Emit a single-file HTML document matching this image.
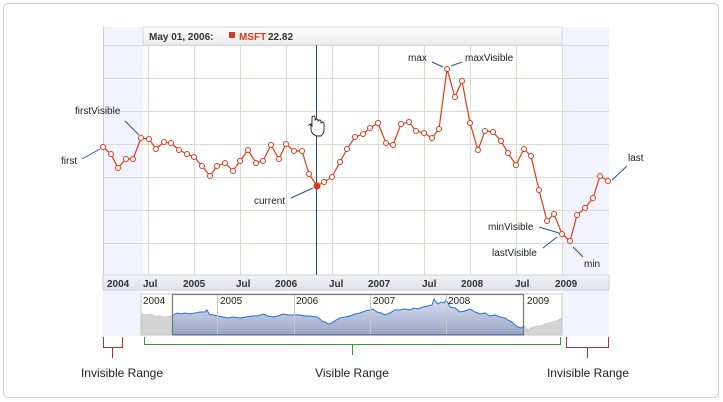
<!DOCTYPE html>
<html><head><meta charset="utf-8"><style>
html,body{margin:0;padding:0;background:#fff;}
svg{display:block;font-family:"Liberation Sans",Arial,sans-serif;}
</style></head><body>
<svg width="723" height="402" viewBox="0 0 723 402" xmlns="http://www.w3.org/2000/svg">
<defs>
<linearGradient id="hg" x1="0" y1="0" x2="0" y2="1"><stop offset="0" stop-color="#fdfdfd"/><stop offset="1" stop-color="#ececec"/></linearGradient>
<linearGradient id="ag" x1="0" y1="0" x2="0" y2="1"><stop offset="0" stop-color="#f2f2f6"/><stop offset="1" stop-color="#dfe3ee"/></linearGradient>
<linearGradient id="nb" x1="0" y1="0" x2="0" y2="1"><stop offset="0" stop-color="#dde1ee"/><stop offset="1" stop-color="#97a4c6"/></linearGradient>
<clipPath id="sel"><rect x="172" y="294" width="352" height="42"/></clipPath>
</defs>
<rect x="3.5" y="3.5" width="715" height="394" rx="5" fill="#fff" stroke="#cfcfcf"/>
<rect x="103" y="27" width="40" height="309" fill="#f2f3fd"/>
<rect x="562" y="27" width="47" height="309" fill="#f2f3fd"/>
<rect x="143" y="27" width="419" height="18" fill="url(#hg)" stroke="#d8d8d8"/>
<text x="149" y="40" font-size="10" font-weight="bold" fill="#333">May 01, 2006:</text>
<rect x="229" y="32" width="6" height="6" fill="#d93a16"/>
<text x="239" y="40" font-size="10" font-weight="bold" fill="#e03a18">MSFT</text>
<text x="268" y="40" font-size="10" font-weight="bold" fill="#333">22.82</text>
<g stroke="#d4dcd4" stroke-width="1">
<line x1="103" y1="45.5" x2="609" y2="45.5"/><line x1="103" y1="78.5" x2="609" y2="78.5"/>
<line x1="103" y1="111.5" x2="609" y2="111.5"/><line x1="103" y1="144.5" x2="609" y2="144.5"/>
<line x1="103" y1="177.5" x2="609" y2="177.5"/><line x1="103" y1="210.5" x2="609" y2="210.5"/>
<line x1="103" y1="243.5" x2="609" y2="243.5"/>
<line x1="148.5" y1="45" x2="148.5" y2="275"/><line x1="194.5" y1="45" x2="194.5" y2="275"/>
<line x1="240.5" y1="45" x2="240.5" y2="275"/><line x1="286.5" y1="45" x2="286.5" y2="275"/>
<line x1="332.5" y1="45" x2="332.5" y2="275"/><line x1="378.5" y1="45" x2="378.5" y2="275"/>
<line x1="424.5" y1="45" x2="424.5" y2="275"/><line x1="470.5" y1="45" x2="470.5" y2="275"/>
<line x1="516.5" y1="45" x2="516.5" y2="275"/><line x1="562.5" y1="45" x2="562.5" y2="275"/>
</g>
<line x1="103.5" y1="27" x2="103.5" y2="290" stroke="#c8ccd8"/>
<rect x="103" y="275" width="506" height="15" fill="url(#ag)" stroke="#cdd2de"/>
<g font-size="10" font-weight="bold" fill="#333">
<text x="107" y="287">2004</text><text x="143" y="287">Jul</text><text x="183" y="287">2005</text>
<text x="236" y="287">Jul</text><text x="275" y="287">2006</text><text x="329" y="287">Jul</text>
<text x="368" y="287">2007</text><text x="422" y="287">Jul</text><text x="461" y="287">2008</text>
<text x="515" y="287">Jul</text><text x="555" y="287">2009</text>
</g>
<line x1="316.5" y1="45" x2="316.5" y2="275" stroke="#2c4a6a"/>
<polyline fill="none" stroke="#e03a18" stroke-width="1.2" points="103,147 111,154 118,168 126,159 133,159 141,138 149,139 156,149 164,142 171,143 179,150 187,154 194,157 202,166 210,176 217,166 225,163 233,171 240,161 248,150 256,163 263,161 271,145 279,159 286,144 294,151 302,151 309,174 317,186 324,182 332,177 340,162 347,149 355,137 363,134 370,128 378,123 386,143 393,145 401,124 409,122 416,131 424,133 432,138 439,129 447,69 455,97 462,81 470,123 478,150 485,131 493,132 501,141 508,153 516,165 524,149 531,156 539,190 547,221 554,214 562,234 570,241 577,215 585,208 593,198 600,176 608,181"/>
<g fill="#fff" stroke="#e03a18" stroke-width="1">
<circle cx="103" cy="147" r="2.5"/><circle cx="111" cy="154" r="2.5"/><circle cx="118" cy="168" r="2.5"/><circle cx="126" cy="159" r="2.5"/><circle cx="133" cy="159" r="2.5"/><circle cx="141" cy="138" r="2.5"/><circle cx="149" cy="139" r="2.5"/><circle cx="156" cy="149" r="2.5"/><circle cx="164" cy="142" r="2.5"/><circle cx="171" cy="143" r="2.5"/><circle cx="179" cy="150" r="2.5"/><circle cx="187" cy="154" r="2.5"/><circle cx="194" cy="157" r="2.5"/><circle cx="202" cy="166" r="2.5"/><circle cx="210" cy="176" r="2.5"/><circle cx="217" cy="166" r="2.5"/><circle cx="225" cy="163" r="2.5"/><circle cx="233" cy="171" r="2.5"/><circle cx="240" cy="161" r="2.5"/><circle cx="248" cy="150" r="2.5"/><circle cx="256" cy="163" r="2.5"/><circle cx="263" cy="161" r="2.5"/><circle cx="271" cy="145" r="2.5"/><circle cx="279" cy="159" r="2.5"/><circle cx="286" cy="144" r="2.5"/><circle cx="294" cy="151" r="2.5"/><circle cx="302" cy="151" r="2.5"/><circle cx="309" cy="174" r="2.5"/><circle cx="324" cy="182" r="2.5"/><circle cx="332" cy="177" r="2.5"/><circle cx="340" cy="162" r="2.5"/><circle cx="347" cy="149" r="2.5"/><circle cx="355" cy="137" r="2.5"/><circle cx="363" cy="134" r="2.5"/><circle cx="370" cy="128" r="2.5"/><circle cx="378" cy="123" r="2.5"/><circle cx="386" cy="143" r="2.5"/><circle cx="393" cy="145" r="2.5"/><circle cx="401" cy="124" r="2.5"/><circle cx="409" cy="122" r="2.5"/><circle cx="416" cy="131" r="2.5"/><circle cx="424" cy="133" r="2.5"/><circle cx="432" cy="138" r="2.5"/><circle cx="439" cy="129" r="2.5"/><circle cx="447" cy="69" r="2.5"/><circle cx="455" cy="97" r="2.5"/><circle cx="462" cy="81" r="2.5"/><circle cx="470" cy="123" r="2.5"/><circle cx="478" cy="150" r="2.5"/><circle cx="485" cy="131" r="2.5"/><circle cx="493" cy="132" r="2.5"/><circle cx="501" cy="141" r="2.5"/><circle cx="508" cy="153" r="2.5"/><circle cx="516" cy="165" r="2.5"/><circle cx="524" cy="149" r="2.5"/><circle cx="531" cy="156" r="2.5"/><circle cx="539" cy="190" r="2.5"/><circle cx="547" cy="221" r="2.5"/><circle cx="554" cy="214" r="2.5"/><circle cx="562" cy="234" r="2.5"/><circle cx="570" cy="241" r="2.5"/><circle cx="577" cy="215" r="2.5"/><circle cx="585" cy="208" r="2.5"/><circle cx="593" cy="198" r="2.5"/><circle cx="600" cy="176" r="2.5"/><circle cx="608" cy="181" r="2.5"/>
</g>
<circle cx="317" cy="186" r="3.5" fill="#d93a16"/>
<!-- hand cursor -->
<path d="M311,124 L311,130 Q312,135 317,136 L321,136 Q324,134 324,129 L324,123 Q323,121 321,123 L321,121 Q320,119 318,121 L318,120 Q317,118 315,120 L315,117 Q314,115 312,117 L312,126 Q310,123 309,125 Z" fill="#fff" stroke="#222" stroke-width="0.9"/>
<g stroke="#2850a0" stroke-width="1">
<line x1="82" y1="159" x2="100" y2="149"/><line x1="125" y1="121" x2="139" y2="135"/>
<line x1="291" y1="198" x2="313" y2="188"/><line x1="432" y1="62" x2="443" y2="67"/>
<line x1="451" y1="66" x2="462" y2="62"/><line x1="539" y1="227" x2="559" y2="233"/>
<line x1="543" y1="248" x2="557" y2="237"/><line x1="573" y1="247" x2="583" y2="257"/>
<line x1="612" y1="180" x2="627" y2="166"/>
</g>
<g font-size="10" fill="#222">
<text x="61" y="164">first</text><text x="75" y="114">firstVisible</text>
<text x="254" y="204">current</text><text x="408" y="61">max</text>
<text x="465" y="61">maxVisible</text><text x="488" y="230">minVisible</text>
<text x="492" y="256">lastVisible</text><text x="584" y="267">min</text>
<text x="628" y="161">last</text>
</g>
<!-- navigator -->
<rect x="141" y="294" width="421" height="41" fill="#fff" stroke="#ccc"/>
<polygon fill="#d4d4d4" stroke="#c4c4c4" stroke-width="0.8" points="141,335 142,314 146,315 150,314 155,316 160,316 165,317 170,316 172,316 175,314 177,313 181,314 185,313 190,314 195,313 200,312 205,312 207,310 209,314 213,315 218,316 223,317 228,318 233,317 240,318 246,317 252,316 258,316 263,314 268,316 273,317 278,316 283,314 288,315 294,315 300,315 305,316 310,316 317,317 320,319 322,321 325,322 328,324 332,323 336,320 340,318 345,317 350,316 355,314 360,313 365,311 370,310 373,309 377,312 381,313 385,315 390,313 395,310 400,310 405,309 410,310 414,308 418,309 423,307 428,306 432,305 434,299 436,302 438,304 441,302 444,303 446,300 448,303 450,307 455,308 460,312 465,311 470,309 475,312 480,314 485,313 490,316 495,315 500,317 505,318 508,320 512,322 515,325 518,327 521,328 524,326 526,328 528,330 531,328 534,327 538,326 541,326 545,324 549,323 553,322 557,321 560,319 562,318 562,335"/>
<g clip-path="url(#sel)">
<rect x="172" y="294" width="352" height="41" fill="#fff"/>
<polygon fill="url(#nb)" stroke="#1f6fe0" stroke-width="1" points="141,335 142,314 146,315 150,314 155,316 160,316 165,317 170,316 172,316 175,314 177,313 181,314 185,313 190,314 195,313 200,312 205,312 207,310 209,314 213,315 218,316 223,317 228,318 233,317 240,318 246,317 252,316 258,316 263,314 268,316 273,317 278,316 283,314 288,315 294,315 300,315 305,316 310,316 317,317 320,319 322,321 325,322 328,324 332,323 336,320 340,318 345,317 350,316 355,314 360,313 365,311 370,310 373,309 377,312 381,313 385,315 390,313 395,310 400,310 405,309 410,310 414,308 418,309 423,307 428,306 432,305 434,299 436,302 438,304 441,302 444,303 446,300 448,303 450,307 455,308 460,312 465,311 470,309 475,312 480,314 485,313 490,316 495,315 500,317 505,318 508,320 512,322 515,325 518,327 521,328 524,326 526,328 528,330 531,328 534,327 538,326 541,326 545,324 549,323 553,322 557,321 560,319 562,318 562,335"/>
</g>
<g stroke="#c8c8c8"><line x1="217.5" y1="294" x2="217.5" y2="335"/><line x1="294.5" y1="294" x2="294.5" y2="335"/><line x1="370.5" y1="294" x2="370.5" y2="335"/><line x1="446.5" y1="294" x2="446.5" y2="335"/></g>
<rect x="172.5" y="294.5" width="351" height="40" fill="none" stroke="#777" stroke-width="1.2"/>
<g font-size="10" fill="#222">
<text x="143" y="304">2004</text><text x="220" y="304">2005</text><text x="296" y="304">2006</text>
<text x="373" y="304">2007</text><text x="448" y="304">2008</text><text x="527" y="304">2009</text>
</g>
<polyline fill="none" stroke="#a83232" points="103.5,337 103.5,347.5 122.5,347.5 122.5,337"/>
<line x1="112.5" y1="348" x2="112.5" y2="358" stroke="#a83232"/>
<polyline fill="none" stroke="#3a9a3a" points="144.5,337 144.5,344.5 560.5,344.5 560.5,337"/>
<line x1="352.5" y1="345" x2="352.5" y2="355" stroke="#3a9a3a"/>
<polyline fill="none" stroke="#a83232" points="566.5,337 566.5,347.5 608.5,347.5 608.5,337"/>
<line x1="587.5" y1="348" x2="587.5" y2="358" stroke="#a83232"/>
<g font-size="12" fill="#222" text-anchor="middle">
<text x="122" y="377">Invisible Range</text><text x="352" y="377">Visible Range</text><text x="588" y="377">Invisible Range</text>
</g>
</svg>
</body></html>
